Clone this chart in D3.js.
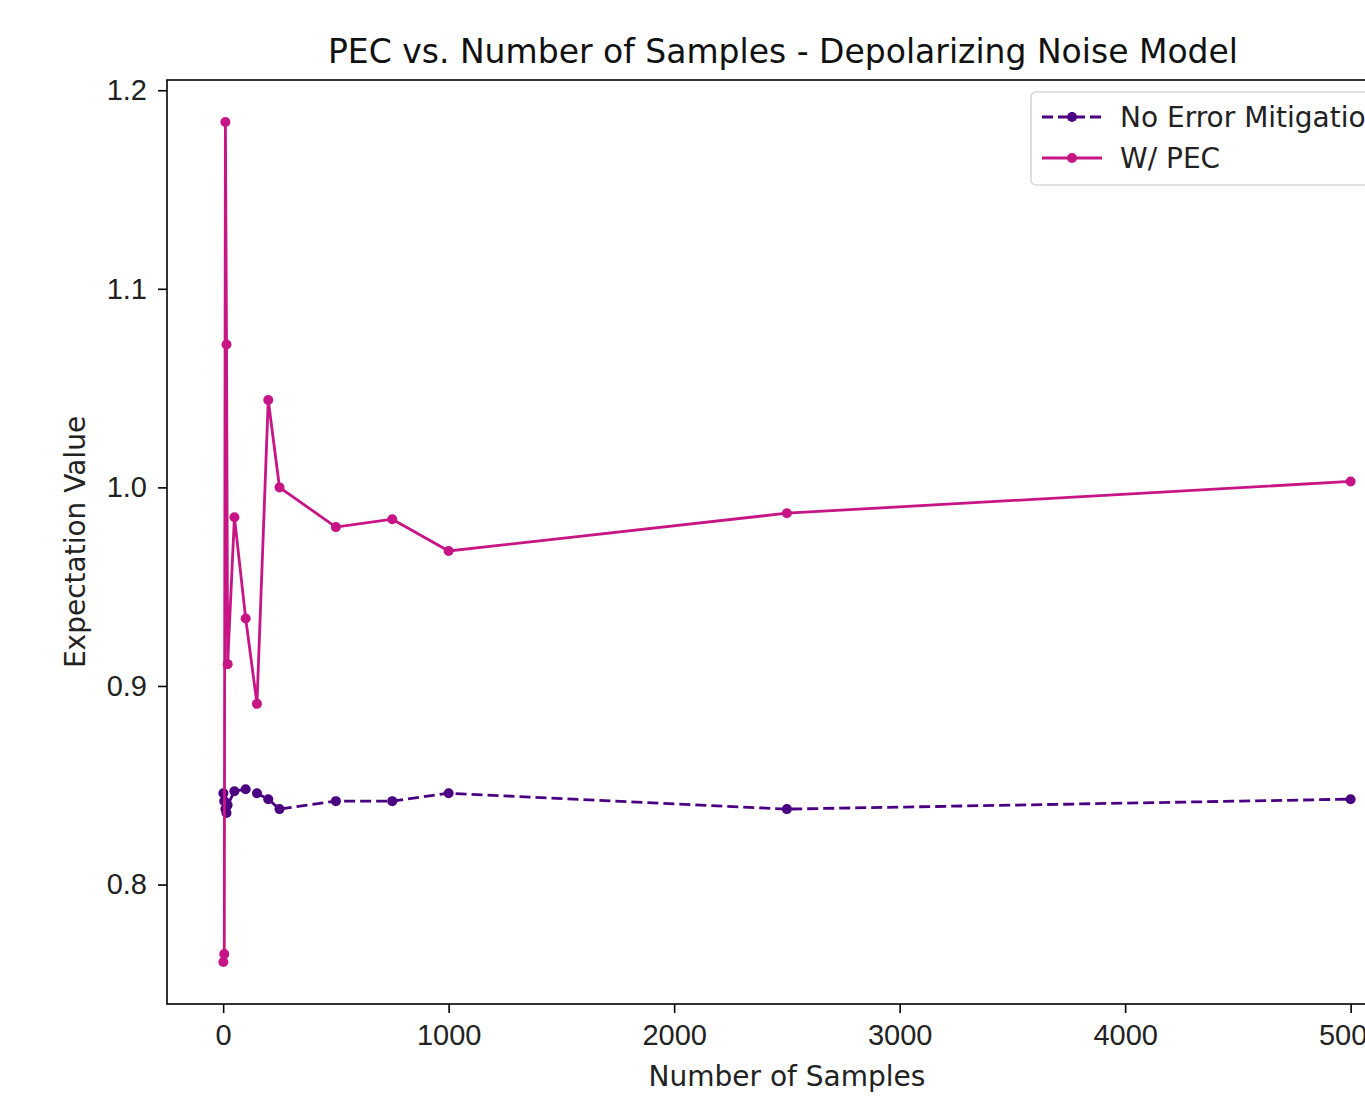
<!DOCTYPE html>
<html>
<head>
<meta charset="utf-8">
<script src="https://cdn.jsdelivr.net/npm/d3@7"></script>
<style>
  body { margin: 0; background: #fff; overflow: hidden; }
  svg { display: block; font-family: "DejaVu Sans", sans-serif; }
  .axis line { stroke: #000; stroke-width: 1.6px; }
  .axis text { font-size: 29px; fill: #222; }
</style>
</head>
<body>
<div id="chart"></div>
<script>
// sample counts and expectation values
const samples = [1, 5, 10, 15, 20, 50, 100, 150, 200, 250, 500, 750, 1000, 2500, 5000];
const noMitigation = [0.846, 0.842, 0.838, 0.836, 0.840, 0.847, 0.848, 0.846, 0.843, 0.838, 0.842, 0.842, 0.846, 0.838, 0.843];
const withPEC = [0.761, 0.765, 1.184, 1.072, 0.911, 0.985, 0.934, 0.891, 1.044, 1.000, 0.980, 0.984, 0.968, 0.987, 1.003];
const xTicks = [0, 1000, 2000, 3000, 4000, 5000];
const yTicks = [0.8, 0.9, 1.0, 1.1, 1.2];

const series = [
    {name: 'No Error Mitigation', values: noMitigation, color: '#4b0082', dash: '11,5'},
    {name: 'W/ PEC', values: withPEC, color: '#c71585', dash: null}
];

const W = 1365, H = 1107;
const margin = {top: 80, left: 167};
const plotW = 1240, plotH = 924;

const svg = d3.select('#chart').append('svg')
    .attr('width', W)
    .attr('height', H);

// matplotlib style 5% padding around the data
const xExt = d3.extent(samples);
const xPad = (xExt[1] - xExt[0]) * 0.05;
const allY = noMitigation.concat(withPEC);
const yExt = d3.extent(allY);
const yPad = (yExt[1] - yExt[0]) * 0.05;

const x = d3.scaleLinear()
    .domain([xExt[0] - xPad, xExt[1] + xPad])
    .range([0, plotW]);
const y = d3.scaleLinear()
    .domain([yExt[0] - yPad, yExt[1] + yPad])
    .range([plotH, 0]);

const g = svg.append('g')
    .attr('transform', 'translate(' + margin.left + ',' + margin.top + ')');

g.append('g')
    .attr('class', 'axis axis--x')
    .attr('transform', 'translate(0,' + plotH + ')')
    .call(d3.axisBottom(x).tickValues(xTicks).tickFormat(d3.format('d')).tickSizeOuter(0).tickSize(9).tickPadding(11))
    .call((a) => a.select('.domain').remove());

g.append('g')
    .attr('class', 'axis axis--y')
    .call(d3.axisLeft(y).tickValues(yTicks).tickFormat(d3.format('.1f')).tickSizeOuter(0).tickSize(9).tickPadding(11))
    .call((a) => a.select('.domain').remove());

// frame
g.append('rect')
    .attr('width', plotW)
    .attr('height', plotH)
    .attr('fill', 'none')
    .attr('stroke', '#000')
    .attr('stroke-width', 1.6);

const line = d3.line()
    .x((d) => { return x(d[0]) })
    .y((d) => { return y(d[1]) });

series.forEach((s) => {
    const pts = samples.map((n, i) => { return [n, s.values[i]] });
    const grp = g.append('g').attr('class', 'series');
    grp.append('path')
        .attr('d', line(pts))
        .attr('fill', 'none')
        .attr('stroke', s.color)
        .attr('stroke-width', 2.8)
        .attr('stroke-dasharray', s.dash);
    grp.selectAll('circle')
        .data(pts)
        .enter()
    .append('circle')
        .attr('cx', (d) => { return x(d[0]) })
        .attr('cy', (d) => { return y(d[1]) })
        .attr('r', 5)
        .attr('fill', s.color);
});

// title and axis labels
svg.append('text')
    .attr('x', margin.left + plotW / 2 - 4)
    .attr('y', 63)
    .attr('text-anchor', 'middle')
    .style('font-size', '33px')
    .style('fill', '#111')
    .text('PEC vs. Number of Samples - Depolarizing Noise Model');

svg.append('text')
    .attr('x', margin.left + plotW / 2)
    .attr('y', 1086)
    .attr('text-anchor', 'middle')
    .style('font-size', '28px')
    .style('fill', '#222')
    .text('Number of Samples');

svg.append('text')
    .attr('transform', 'translate(85,' + (margin.top + plotH / 2) + ') rotate(-90)')
    .attr('text-anchor', 'middle')
    .style('font-size', '28px')
    .style('fill', '#222')
    .text('Expectation Value');

// legend
const legend = svg.append('g')
    .attr('transform', 'translate(1031,92)');
legend.append('rect')
    .attr('width', 420)
    .attr('height', 93)
    .attr('rx', 5)
    .attr('fill', '#fff')
    .attr('fill-opacity', 0.8)
    .attr('stroke', '#d6d6d6')
    .attr('stroke-width', 1.6);

const item = legend.selectAll('.item')
    .data(series)
    .enter()
.append('g')
    .attr('class', 'item')
    .attr('transform', (d, i) => { return 'translate(0,' + (25 + i * 41) + ')' });
item.append('line')
    .attr('x1', 11).attr('x2', 71)
    .attr('stroke', (d) => { return d.color })
    .attr('stroke-width', 2.8)
    .attr('stroke-dasharray', (d) => { return d.dash });
item.append('circle')
    .attr('cx', 41)
    .attr('r', 5)
    .attr('fill', (d) => { return d.color });
item.append('text')
    .attr('x', 89)
    .attr('dy', '0.35em')
    .style('font-size', '28px')
    .style('fill', '#222')
    .text((d) => { return d.name });
</script>
</body>
</html>
